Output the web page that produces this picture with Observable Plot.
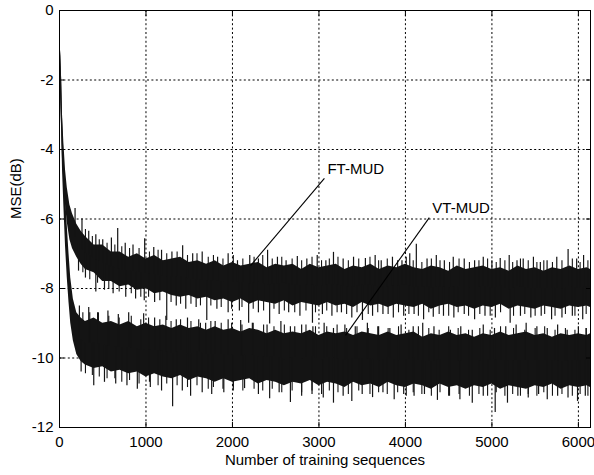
<!DOCTYPE html>
<html><head><meta charset="utf-8">
<script src="https://cdn.jsdelivr.net/npm/d3@7"></script>
<script src="https://cdn.jsdelivr.net/npm/@observablehq/plot@0.6"></script>
<style>body{margin:0;background:#fff}</style>
</head><body><div id="chart"></div>
<script>
const xTicks = [0, 1000, 2000, 3000, 4000, 5000, 6000];
const yTicks = [-12, -10, -8, -6, -4, -2, 0];
const xLabel = "Number of training sequences";
const yLabel = "MSE(dB)";

// Initial convergence (dense band upper / lower edge, dB)
const ftEarlyX  = [0, 5, 15, 25, 35, 50, 70, 90, 120, 150, 200, 250];
const ftEarlyHi = [-0.85, -0.85, -1.3, -2.0, -3.0, -3.8, -4.6, -5.1, -5.6, -5.85, -6.15, -6.35];
const ftEarlyLo = [-1.0, -1.8, -2.6, -3.4, -4.3, -4.9, -5.6, -6.1, -6.6, -6.85, -7.1, -7.3];
const vtEarlyX  = [0, 5, 15, 25, 35, 50, 70, 90, 110, 130, 160, 200, 250];
const vtEarlyHi = [-0.85, -0.85, -1.3, -2.0, -3.1, -4.1, -5.3, -6.2, -7.0, -7.7, -8.3, -8.7, -8.85];
const vtEarlyLo = [-1.0, -1.8, -2.6, -3.5, -4.6, -5.6, -6.8, -7.7, -8.4, -9.0, -9.5, -9.9, -10.1];

// Steady part, sampled every 100 sequences from 300 to 6100, then 6140
const sampleX = [...d3.range(300, 6101, 100), 6140];
const ftHi = [-6.5, -6.75, -6.75, -6.95, -6.95, -7.1, -7.0, -7.15, -7.05, -7.2,
  -7.15, -7.1, -7.25, -7.2, -7.3, -7.2, -7.35, -7.25, -7.35, -7.3,
  -7.25, -7.4, -7.3, -7.35, -7.3, -7.45, -7.3, -7.4, -7.35, -7.3,
  -7.45, -7.35, -7.4, -7.3, -7.45, -7.35, -7.4, -7.3, -7.4, -7.45,
  -7.35, -7.4, -7.5, -7.35, -7.45, -7.4, -7.35, -7.45, -7.4, -7.5,
  -7.35, -7.45, -7.4, -7.5, -7.4, -7.45, -7.35, -7.45, -7.4, -7.45];
const ftLo = [-7.45, -7.55, -7.8, -7.8, -7.95, -7.9, -8.05, -8.0, -8.15, -8.1,
  -8.2, -8.25, -8.2, -8.3, -8.25, -8.35, -8.3, -8.4, -8.3, -8.45,
  -8.35, -8.4, -8.45, -8.35, -8.5, -8.4, -8.45, -8.5, -8.4, -8.5,
  -8.45, -8.55, -8.4, -8.5, -8.45, -8.55, -8.45, -8.5, -8.55, -8.45,
  -8.6, -8.5, -8.45, -8.55, -8.5, -8.6, -8.5, -8.55, -8.45, -8.6,
  -8.5, -8.55, -8.6, -8.5, -8.55, -8.6, -8.5, -8.55, -8.5, -8.55];
const vtHi = [-8.95, -8.85, -9.0, -8.95, -9.05, -8.95, -9.1, -9.0, -9.1, -9.05,
  -9.15, -9.05, -9.15, -9.1, -9.2, -9.1, -9.2, -9.15, -9.25, -9.15,
  -9.2, -9.3, -9.2, -9.3, -9.25, -9.3, -9.2, -9.35, -9.25, -9.3,
  -9.25, -9.35, -9.25, -9.3, -9.35, -9.25, -9.35, -9.3, -9.25, -9.4,
  -9.3, -9.35, -9.25, -9.35, -9.3, -9.4, -9.3, -9.35, -9.25, -9.35,
  -9.3, -9.25, -9.35, -9.3, -9.4, -9.3, -9.35, -9.3, -9.35, -9.3];
const vtLo = [-10.2, -10.3, -10.25, -10.4, -10.35, -10.45, -10.4, -10.55, -10.45, -10.55,
  -10.6, -10.5, -10.65, -10.55, -10.6, -10.7, -10.6, -10.7, -10.65, -10.6,
  -10.75, -10.65, -10.7, -10.8, -10.7, -10.75, -10.65, -10.8, -10.7, -10.75,
  -10.85, -10.7, -10.8, -10.75, -10.85, -10.7, -10.8, -10.85, -10.75, -10.8,
  -10.9, -10.75, -10.85, -10.8, -10.9, -10.8, -10.85, -10.75, -10.9, -10.8,
  -10.85, -10.9, -10.8, -10.85, -10.75, -10.9, -10.8, -10.85, -10.8, -10.85];

// Large noise spikes
const ftUpX = [180, 260, 338, 420, 500, 600, 673, 760, 850, 985, 1090, 1180, 1300, 1424, 1540, 1650, 1828, 1950, 2058, 2200, 2300, 2406, 2520, 2620, 2750, 2860, 2980, 3080, 3168, 3280, 3400, 3537, 3650, 3720, 3850, 3960, 4050, 4126, 4250, 4357, 4450, 4553, 4680, 4800, 4900, 5000, 5096, 5200, 5290, 5362, 5480, 5560, 5638, 5750, 5881, 5980, 6060];
const ftUpV = [-5.7, -6.0, -6.35, -6.45, -6.6, -6.55, -6.27, -6.7, -6.75, -6.57, -6.82, -6.9, -6.95, -6.77, -7.0, -6.95, -7.1, -7.0, -7.2, -7.05, -7.15, -6.9, -7.1, -7.2, -7.08, -7.15, -7.05, -7.2, -6.96, -7.15, -7.1, -7.14, -7.05, -7.2, -7.1, -7.2, -7.0, -6.73, -7.15, -7.05, -7.2, -7.1, -7.15, -7.2, -7.1, -7.2, -7.14, -7.05, -7.2, -7.15, -7.1, -7.25, -7.2, -7.1, -6.88, -7.15, -7.05];
const ftLoX = [220, 300, 420, 520, 620, 766, 880, 980, 1100, 1240, 1350, 1460, 1580, 1703, 1820, 1950, 2080, 2187, 2300, 2430, 2540, 2650, 2780, 2925, 3040, 3150, 3260, 3380, 3503, 3620, 3740, 3860, 3980, 4100, 4210, 4322, 4440, 4560, 4680, 4800, 4920, 5040, 5211, 5330, 5450, 5570, 5690, 5810, 5930, 6050];
const ftLoV = [-7.5, -7.7, -8.1, -8.05, -8.15, -8.25, -8.3, -8.35, -8.4, -8.92, -8.5, -8.6, -8.55, -8.92, -8.6, -8.7, -8.65, -9.0, -8.7, -9.02, -8.75, -8.7, -8.8, -9.0, -8.75, -8.8, -8.7, -8.85, -8.92, -8.8, -8.75, -8.85, -8.8, -8.75, -8.9, -8.83, -8.8, -8.85, -8.75, -8.9, -8.8, -8.85, -9.0, -8.8, -8.85, -8.8, -8.9, -8.85, -8.8, -8.9];
const vtUpX = [230, 338, 450, 560, 680, 800, 973, 1100, 1230, 1350, 1480, 1610, 1690, 1800, 1950, 2095, 2230, 2400, 2560, 2670, 2800, 2930, 3060, 3168, 3300, 3420, 3560, 3690, 3820, 3950, 4090, 4200, 4330, 4520, 4640, 4773, 4900, 5030, 5160, 5280, 5396, 5520, 5640, 5760, 5870, 6000, 6090];
const vtUpV = [-8.5, -8.55, -8.7, -8.65, -8.75, -8.7, -8.73, -8.85, -8.8, -8.9, -8.85, -8.9, -9.0, -8.95, -8.9, -8.92, -9.0, -9.05, -8.95, -9.1, -9.05, -9.1, -9.0, -9.15, -9.05, -9.1, -9.0, -9.1, -9.15, -9.05, -9.1, -9.0, -9.1, -9.2, -9.1, -9.2, -9.05, -9.15, -9.1, -9.05, -9.0, -9.1, -9.15, -9.05, -9.2, -9.1, -9.15];
const vtLoX = [250, 396, 520, 650, 780, 900, 1050, 1180, 1308, 1420, 1516, 1650, 1760, 1900, 2010, 2140, 2300, 2430, 2540, 2670, 2800, 2920, 3050, 3168, 3280, 3380, 3500, 3620, 3740, 3870, 3980, 4100, 4220, 4370, 4500, 4630, 4773, 4900, 5038, 5180, 5300, 5420, 5540, 5640, 5760, 5880, 5990, 6080];
const vtLoV = [-10.4, -10.8, -10.7, -10.75, -10.8, -10.9, -10.85, -10.95, -11.4, -10.95, -11.1, -11.0, -11.05, -11.0, -10.95, -10.88, -11.05, -11.17, -11.0, -11.28, -11.1, -11.05, -11.15, -11.3, -11.1, -11.25, -11.05, -11.14, -11.0, -11.2, -11.05, -11.1, -11.05, -11.22, -11.1, -11.2, -11.3, -11.1, -11.57, -11.3, -11.1, -11.15, -11.05, -11.2, -11.1, -11.15, -11.25, -11.1];

// Smaller noise spikes
const minorAX = [300, 380, 460, 550, 640, 720, 810, 920, 1040, 1140, 1240, 1360, 1480, 1590, 1720, 1780, 1890, 2010, 2120, 2250, 2350, 2460, 2570, 2690, 2800, 2920, 3030, 3120, 3220, 3340, 3460, 3590, 3690, 3790, 3910, 4010, 4090, 4190, 4300, 4400, 4510, 4620, 4740, 4850, 4950, 5050, 5150, 5240, 5330, 5420, 5520, 5600, 5700, 5810, 5930, 6020, 6110];
const minorBX = [270, 350, 440, 570, 690, 830, 940, 1030, 1160, 1290, 1400, 1520, 1630, 1750, 1870, 1990, 2110, 2240, 2360, 2480, 2600, 2720, 2850, 2960, 3090, 3210, 3320, 3440, 3570, 3680, 3800, 3920, 4040, 4150, 4270, 4390, 4500, 4610, 4730, 4860, 4980, 5100, 5250, 5380, 5500, 5610, 5730, 5850, 5960, 6090];
const ftUp2V = [-6.3, -6.5, -6.6, -6.7, -6.75, -6.8, -6.85, -6.85, -6.95, -6.9, -7.0, -6.95, -7.05, -7.0, -7.1, -7.05, -7.15, -7.05, -7.15, -7.1, -7.05, -7.15, -7.1, -7.15, -7.2, -7.1, -7.2, -7.15, -7.1, -7.2, -7.15, -7.1, -7.2, -7.15, -7.2, -7.1, -7.2, -7.25, -7.15, -7.2, -7.25, -7.15, -7.25, -7.2, -7.15, -7.25, -7.2, -7.25, -7.15, -7.2, -7.25, -7.2, -7.25, -7.2, -7.15, -7.25, -7.2];
const ftLo2V = [-7.55, -7.75, -7.85, -8.0, -8.1, -8.15, -8.25, -8.25, -8.35, -8.4, -8.45, -8.45, -8.5, -8.5, -8.55, -8.6, -8.55, -8.6, -8.65, -8.6, -8.65, -8.7, -8.65, -8.7, -8.65, -8.7, -8.75, -8.7, -8.75, -8.7, -8.75, -8.7, -8.75, -8.8, -8.7, -8.75, -8.8, -8.7, -8.8, -8.75, -8.8, -8.7, -8.8, -8.75, -8.8, -8.75, -8.8, -8.75, -8.8, -8.75];
const vtUp2V = [-8.7, -8.7, -8.7, -8.8, -8.85, -8.8, -8.9, -8.85, -8.9, -8.95, -8.9, -8.95, -9.0, -8.95, -9.0, -9.0, -9.05, -9.0, -9.05, -9.1, -9.05, -9.1, -9.05, -9.1, -9.1, -9.05, -9.15, -9.1, -9.15, -9.1, -9.15, -9.1, -9.2, -9.1, -9.15, -9.2, -9.1, -9.15, -9.2, -9.15, -9.2, -9.1, -9.15, -9.2, -9.15, -9.1, -9.2, -9.15, -9.2, -9.15];
const vtLo2V = [-10.45, -10.5, -10.55, -10.6, -10.6, -10.7, -10.65, -10.75, -10.7, -10.8, -10.75, -10.8, -10.85, -10.8, -10.9, -10.85, -10.9, -10.85, -10.95, -10.9, -10.95, -10.9, -11.0, -10.95, -11.0, -10.95, -11.05, -10.95, -11.0, -11.05, -10.95, -11.05, -11.0, -11.05, -11.0, -11.1, -11.0, -11.05, -11.1, -11.0, -11.1, -11.05, -11.1, -11.05, -11.1, -11.0, -11.1, -11.05, -11.1, -11.05, -11.1, -11.0, -11.1, -11.05, -11.1, -11.05, -11.1];

// Annotations
const labels = ["FT-MUD", "VT-MUD"];
const labelX = [3098, 4311];
const labelY = [-4.58, -5.70];
const leaderX1 = [3063, 4276];
const leaderY1 = [-4.83, -5.96];
const leaderX2 = [2210, 3307];
const leaderY2 = [-7.34, -9.35];

const band = (ex, eh, el, hi, lo) => [
  ...ex.map((x, i) => ({x, hi: eh[i], lo: el[i]})),
  ...sampleX.map((x, i) => ({x, hi: hi[i], lo: lo[i]}))
];
const ftBand = band(ftEarlyX, ftEarlyHi, ftEarlyLo, ftHi, ftLo);
const vtBand = band(vtEarlyX, vtEarlyHi, vtEarlyLo, vtHi, vtLo);
const mid = b => d3.scaleLinear().domain(b.map(d => d.x)).range(b.map(d => (d.hi + d.lo) / 2));
const ftMid = mid(ftBand), vtMid = mid(vtBand);
const spikes = (xs, vs, m) => xs.map((x, i) => ({x, v: vs[i], b: m(x)})).filter(d => d.v !== undefined);
const majorSpikes = [
  ...spikes(ftUpX, ftUpV, ftMid), ...spikes(ftLoX, ftLoV, ftMid),
  ...spikes(vtUpX, vtUpV, vtMid), ...spikes(vtLoX, vtLoV, vtMid)
];
const minorSpikes = [
  ...spikes(minorAX, ftUp2V, ftMid), ...spikes(minorBX, ftLo2V, ftMid),
  ...spikes(minorBX, vtUp2V, vtMid), ...spikes(minorAX, vtLo2V, vtMid)
];
const ann = labels.map((t, i) => ({t, x: labelX[i], y: labelY[i], x1: leaderX1[i], y1: leaderY1[i], x2: leaderX2[i], y2: leaderY2[i]}));

const ink = "#141414";
const fmt = d => String(d);
const fs = 15;

const chart = Plot.plot({
  width: 594, height: 475,
  marginLeft: 59, marginRight: 4, marginTop: 10, marginBottom: 48,
  style: {fontFamily: "'Liberation Sans', Arial, sans-serif", fontSize: fs + "px", color: "#000", background: "#fff"},
  x: {domain: [0, 6140]},
  y: {domain: [-12, 0]},
  marks: [
    Plot.gridX(xTicks, {stroke: "#000", strokeOpacity: 1, strokeDasharray: "2,2.4", strokeWidth: 1}),
    Plot.gridY(yTicks, {stroke: "#000", strokeOpacity: 1, strokeDasharray: "2,2.4", strokeWidth: 1}),
    Plot.areaY(ftBand, {x: "x", y1: "lo", y2: "hi", fill: ink}),
    Plot.areaY(vtBand, {x: "x", y1: "lo", y2: "hi", fill: ink}),
    Plot.ruleX(minorSpikes, {x: "x", y1: "b", y2: "v", stroke: ink, strokeWidth: 1.1}),
    Plot.ruleX(majorSpikes, {x: "x", y1: "b", y2: "v", stroke: ink, strokeWidth: 1.2}),
    Plot.link(ann, {x1: "x1", y1: "y1", x2: "x2", y2: "y2", stroke: "#000", strokeWidth: 1.1}),
    Plot.text(ann, {x: "x", y: "y", text: "t", textAnchor: "start", fill: "#000", fontSize: fs}),
    Plot.frame({stroke: "#000", strokeWidth: 1}),
    Plot.axisX(xTicks, {anchor: "bottom", tickSize: 0, tickPadding: 9, tickFormat: fmt, label: null, fontSize: fs}),
    Plot.axisX(xTicks, {anchor: "bottom", tickSize: -5, tickFormat: () => "", label: null}),
    Plot.axisX(xTicks, {anchor: "top", tickSize: -5, tickFormat: () => "", label: null}),
    Plot.axisY(yTicks, {anchor: "left", tickSize: 0, tickPadding: 6, tickFormat: fmt, label: null, fontSize: fs}),
    Plot.axisY(yTicks, {anchor: "left", tickSize: -5, tickFormat: () => "", label: null}),
    Plot.axisY(yTicks, {anchor: "right", tickSize: -5, tickFormat: () => "", label: null}),
    Plot.text([xLabel], {frameAnchor: "bottom", dy: 37, fill: "#000", fontSize: fs}),
    Plot.text([yLabel], {frameAnchor: "left", rotate: -90, dx: -43, fill: "#000", fontSize: fs})
  ]
});
document.getElementById("chart").appendChild(chart);
</script>
</body></html>
